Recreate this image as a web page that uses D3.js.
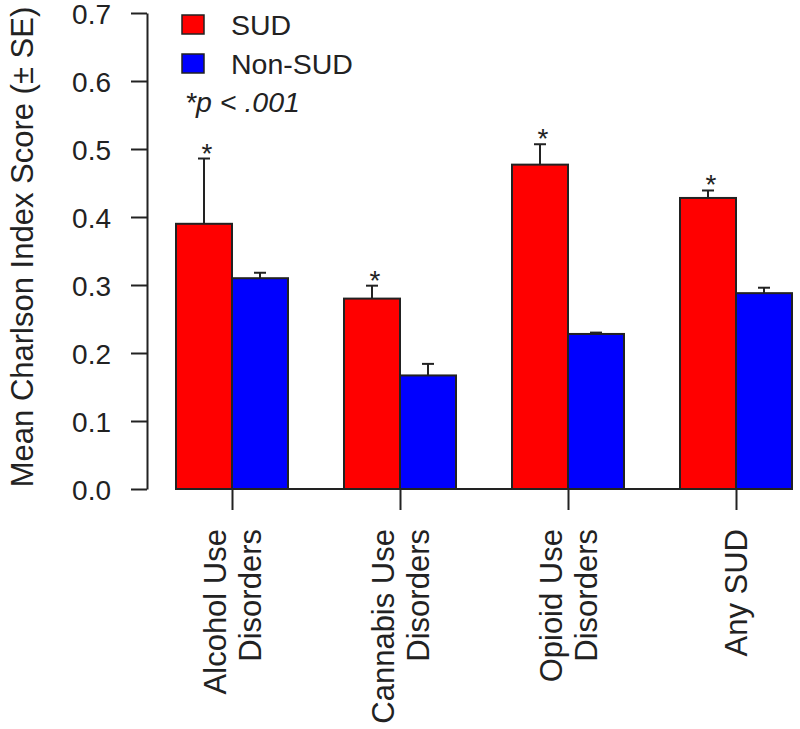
<!DOCTYPE html>
<html>
<head>
<meta charset="utf-8">
<script src="https://cdn.jsdelivr.net/npm/d3@7"></script>
<style>
  html, body { margin: 0; padding: 0; background: #fff; }
  svg { display: block; font-family: "Liberation Sans", Arial, sans-serif; }
</style>
</head>
<body>
<svg id="chart" width="800" height="729"></svg>
<script>
// ---- data ----
const categories = [["Alcohol Use", "Disorders"], ["Cannabis Use", "Disorders"], ["Opioid Use", "Disorders"], ["Any SUD"]];
const categoryKeys = ["Alcohol", "Cannabis", "Opioid", "Any"];
const seriesNames = ["SUD", "Non-SUD"];
const sudMeans = [0.39, 0.28, 0.477, 0.428];
const sudSE = [0.096, 0.019, 0.030, 0.011];
const nonSudMeans = [0.31, 0.167, 0.228, 0.288];
const nonSudSE = [0.008, 0.017, 0.002, 0.008];
const significant = [true, true, true, true];
const yTicks = [0.0, 0.1, 0.2, 0.3, 0.4, 0.5, 0.6, 0.7];
const colors = ["#ff0000", "#0000ff"];

const svg = d3.select("#chart");
const font = "Liberation Sans, Arial, sans-serif";

const y = d3.scaleLinear().domain([0, 0.7]).range([489, 13]);
const x0 = d3.scaleBand().domain(categoryKeys).range([120, 848]).paddingInner(1/3).paddingOuter(1/3);
const x1 = d3.scaleBand().domain(seriesNames).range([0, x0.bandwidth()]);

const rows = categoryKeys.map((k, i) => ({
  key: k,
  vals: [
    { s: "SUD", v: sudMeans[i], se: sudSE[i], c: colors[0] },
    { s: "Non-SUD", v: nonSudMeans[i], se: nonSudSE[i], c: colors[1] }
  ]
}));

// baseline
svg.append("line")
  .attr("x1", x0(categoryKeys[0])).attr("x2", x0(categoryKeys[categoryKeys.length - 1]) + x0.bandwidth())
  .attr("y1", y(0)).attr("y2", y(0))
  .attr("stroke", "#222").attr("stroke-width", 2);

// bars
const g = svg.selectAll("g.grp").data(rows).join("g").attr("class", "grp")
  .attr("transform", d => `translate(${x0(d.key)},0)`);
g.selectAll("rect").data(d => d.vals).join("rect")
  .attr("x", d => x1(d.s)).attr("width", x1.bandwidth())
  .attr("y", d => y(d.v)).attr("height", d => y(0) - y(d.v))
  .attr("fill", d => d.c).attr("stroke", "#222").attr("stroke-width", 2);

// error bars (upper only)
const cap = 6;
const eb = g.selectAll("g.eb").data(d => d.vals).join("g").attr("class", "eb");
eb.append("line")
  .attr("x1", d => x1(d.s) + x1.bandwidth() / 2).attr("x2", d => x1(d.s) + x1.bandwidth() / 2)
  .attr("y1", d => y(d.v)).attr("y2", d => y(d.v + d.se))
  .attr("stroke", "#222").attr("stroke-width", 2);
eb.append("line")
  .attr("x1", d => x1(d.s) + x1.bandwidth() / 2 - cap).attr("x2", d => x1(d.s) + x1.bandwidth() / 2 + cap)
  .attr("y1", d => y(d.v + d.se)).attr("y2", d => y(d.v + d.se))
  .attr("stroke", "#222").attr("stroke-width", 2);

// asterisks
g.filter((d, i) => significant[i]).append("text")
  .attr("x", x1("SUD") + x1.bandwidth() / 2 + 3)
  .attr("y", d => y(d.vals[0].v + d.vals[0].se) + 4)
  .attr("text-anchor", "middle").attr("font-size", 28).attr("fill", "#222")
  .text("*");

// y axis
const yAxis = svg.append("g").attr("transform", "translate(147,0)")
  .call(d3.axisLeft(y).tickValues(yTicks).tickFormat(d3.format(".1f")).tickSize(16).tickSizeOuter(0).tickPadding(20));
yAxis.select(".domain").attr("stroke", "#222").attr("stroke-width", 2);
yAxis.selectAll(".tick line").attr("stroke", "#222").attr("stroke-width", 2);
yAxis.selectAll(".tick text").attr("font-size", 28).attr("font-family", font).attr("fill", "#222")
  .attr("y", 2);

// x ticks
const xt = svg.append("g").attr("transform", `translate(0,${y(0)})`)
  .call(d3.axisBottom(d3.scalePoint().domain(categoryKeys).range([x0(categoryKeys[0]) + x0.bandwidth() / 2, x0(categoryKeys[3]) + x0.bandwidth() / 2]))
    .tickSize(21).tickFormat(""));
xt.select(".domain").remove();
xt.selectAll(".tick line").attr("stroke", "#222").attr("stroke-width", 2);

// x labels (rotated, multi-line)
const lineGap = 35;
rows.forEach((r, i) => {
  const cx = x0(r.key) + x0.bandwidth() / 2;
  const lines = categories[i];
  lines.forEach((ln, j) => {
    const off = (j - (lines.length - 1) / 2) * lineGap + 11;
    svg.append("text")
      .attr("transform", `translate(${cx + off},529) rotate(-90)`)
      .attr("text-anchor", "end")
      .attr("font-size", 31).attr("font-family", font).attr("fill", "#222")
      .text(ln);
  });
});

// y label
svg.append("text")
  .attr("transform", `translate(33,247) rotate(-90)`)
  .attr("text-anchor", "middle")
  .attr("font-size", 31).attr("font-family", font).attr("fill", "#222")
  .text("Mean Charlson Index Score (\u00b1 SE)");

// legend
const leg = svg.append("g");
seriesNames.forEach((s, i) => {
  leg.append("rect").attr("x", 182).attr("y", 15 + i * 39).attr("width", 22).attr("height", 19)
    .attr("fill", colors[i]).attr("stroke", "#222").attr("stroke-width", 1.5);
  leg.append("text").attr("x", 231).attr("y", 35 + i * 39)
    .attr("font-size", 28.5).attr("font-family", font).attr("fill", "#222").text(s);
});
leg.append("text").attr("x", 185).attr("y", 112)
  .attr("font-size", 28.5).attr("font-family", font).attr("font-style", "italic").attr("fill", "#222")
  .text("*p < .001");
</script>
</body>
</html>
